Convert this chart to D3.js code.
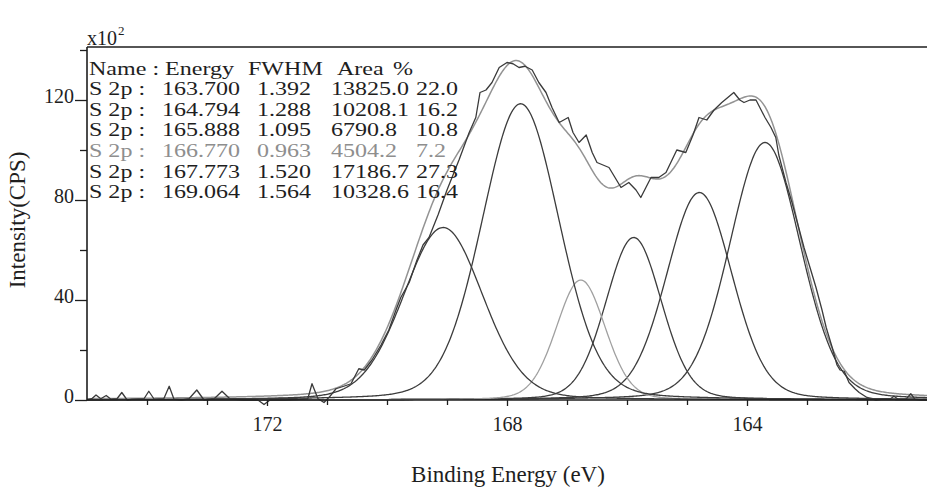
<!DOCTYPE html>
<html><head><meta charset="utf-8">
<script src="https://cdn.jsdelivr.net/npm/d3@7"></script>
<style>
body{margin:0;background:#fff;overflow:hidden}
svg text{font-family:"Liberation Serif","Times New Roman",Times,serif;}
</style>
</head><body><svg id="chart" width="927" height="488"></svg>
<script>
// ---- data ----
const peakNames   = ["S 2p","S 2p","S 2p","S 2p","S 2p","S 2p"];
const peakEnergy  = [163.700, 164.794, 165.888, 166.770, 167.773, 169.064];
const peakFWHM    = [1.392, 1.288, 1.095, 0.963, 1.520, 1.564];
const peakArea    = [13825.0, 10208.1, 6790.8, 4504.2, 17186.7, 10328.6];
const peakPercent = [22.0, 16.2, 10.8, 7.2, 27.3, 16.4];
const peakHeight  = [103, 83, 65, 48, 118.5, 69];   // x10^2 CPS
const peakColor   = ["#3c3c3c","#3c3c3c","#3c3c3c","#a0a0a0","#3c3c3c","#3c3c3c"];
const tableColor  = ["#1e1e1e","#1e1e1e","#1e1e1e","#8e8e8e","#1e1e1e","#1e1e1e"];
const tableHeader = ["Name : Energy","FWHM","Area","%"];

const rawEnergy = [175.0,174.92,174.85,174.77,174.68,174.6,174.5,174.42,174.33,174.25,174.05,173.97,173.88,173.72,173.63,173.55,173.42,173.3,173.17,173.05,172.88,172.75,172.62,172.4,172.15,172.05,171.95,171.7,171.45,171.32,171.25,171.15,171.05,170.95,170.85,170.72,170.6,170.47,170.38,170.25,170.1,169.97,169.85,169.77,169.63,169.5,169.4,169.3,169.15,169.0,168.9,168.8,168.63,168.52,168.45,168.35,168.25,168.13,168.0,167.9,167.8,167.7,167.58,167.47,167.35,167.25,167.13,166.98,166.9,166.8,166.68,166.58,166.5,166.3,166.2,166.1,165.97,165.85,165.77,165.6,165.47,165.35,165.17,165.02,164.9,164.8,164.67,164.55,164.42,164.32,164.22,164.12,164.05,163.95,163.85,163.7,163.6,163.52,163.47,163.35,163.25,163.15,163.05,162.95,162.85,162.75,162.68,162.58,162.5,162.45,162.38,162.3,162.2,162.13,162.0,161.85,161.7,161.62,161.55,161.48,161.35,161.27,161.2,161.1,161.0];
const rawCounts = [0,0.5,2,0.5,1.8,0.3,0.5,3,0,0.3,0.5,3.5,0.3,0.5,5.5,0.3,0,0.5,4,0,0.5,3.5,0.5,0,0,-1.8,0,0,0.3,0.5,6.5,0.5,-1,1.5,4.5,5.5,6.5,12.5,12,16,22,28,36,41,47,56,62,65,74,84,90,96,107,113,123,124,127,133,135,134.5,133,133.5,132,127,123,117,111,113,107,103,106,99,95,93,89,85,87,84,81,89,89,91,100,99,106,113,112,116,119,121,123,120,119,120,120,113,109,105,98,87,79,70,61,53,45,36,29,21,14,12,11.5,7,4.5,3,1,0,0.5,0.3,1.5,0.3,0.3,2.5,0.3,0,0];

const xMajorTicks = [172, 168, 164];
const xMinorTicks = [174,173,171,170,169,167,166,165,163,162];
const yMajorTicks = [0, 40, 80, 120];
const yMinorTicks = [20, 60, 100, 140];

// ---- drawing ----
const svg = d3.select("#chart");
const INK = "#1e1e1e";
const x = d3.scaleLinear().domain([175, 161]).range([87, 927]);
const y = d3.scaleLinear().domain([0, 141.2]).range([400, 47]);
const MIX = 0.15;

function peakShape(E, i) {
  const d = E - peakEnergy[i], w = peakFWHM[i];
  const g = Math.exp(-4 * Math.LN2 * d * d / (w * w));
  const l = 1 / (1 + 4 * d * d / (w * w));
  return peakHeight[i] * ((1 - MIX) * g + MIX * l);
}
const grid = d3.range(175, 160.99, -0.02);
const line = d3.line().x(d => x(d[0])).y(d => y(d[1]));

const plot = svg.append("g");
peakEnergy.forEach((c, i) => {
  plot.append("path")
    .attr("d", line(grid.map(E => [E, peakShape(E, i)])))
    .attr("fill", "none").attr("stroke", peakColor[i]).attr("stroke-width", 1.3);
});
plot.append("path")
  .attr("d", line(grid.map(E => [E, d3.sum(peakEnergy, (c, i) => peakShape(E, i))])))
  .attr("fill", "none").attr("stroke", "#939393").attr("stroke-width", 1.5);
plot.append("path")
  .attr("d", line(rawEnergy.map((E, k) => [E, rawCounts[k]])))
  .attr("fill", "none").attr("stroke", "#3a3a3a").attr("stroke-width", 1.3)
  .attr("stroke-linejoin", "round");

// frame / axes
const ax = svg.append("g").attr("stroke", INK).attr("stroke-width", 1.6);
ax.append("line").attr("x1", x(175)).attr("x2", 927).attr("y1", y(0)).attr("y2", y(0));
ax.append("line").attr("x1", x(175)).attr("x2", x(175)).attr("y1", y(0)).attr("y2", y(141.2));
ax.append("line").attr("x1", x(175)).attr("x2", 927).attr("y1", y(141.2)).attr("y2", y(141.2));

function styleAxis(g, size) {
  g.select(".domain").remove();
  g.selectAll(".tick line").attr("stroke", INK).attr("stroke-width", 1.3);
  g.selectAll(".tick text").attr("font-size", size).attr("fill", INK);
}
const gx1 = svg.append("g").attr("transform", `translate(0,${y(0)})`)
  .call(d3.axisBottom(x).tickValues(xMajorTicks).tickSize(6).tickPadding(11).tickFormat(d3.format("d")));
styleAxis(gx1, 20);
const gx2 = svg.append("g").attr("transform", `translate(0,${y(0)})`)
  .call(d3.axisBottom(x).tickValues(xMinorTicks).tickSize(5).tickFormat(""));
styleAxis(gx2, 20);

const gy1 = svg.append("g").attr("transform", `translate(${x(175)},0)`)
  .call(d3.axisLeft(y).tickValues(yMajorTicks).tickSize(12).tickPadding(1).tickFormat(d3.format("d")));
styleAxis(gy1, 20);
gy1.selectAll(".tick text").attr("dy", "0.1em");
const gy2 = svg.append("g").attr("transform", `translate(${x(175)},0)`)
  .call(d3.axisLeft(y).tickValues(yMinorTicks).tickSize(7).tickFormat(""));
styleAxis(gy2, 20);

// multiplier
svg.append("text").attr("x", 87).attr("y", 45).attr("font-size", 20).attr("fill", INK).text("x10");
svg.append("text").attr("x", 118).attr("y", 35).attr("font-size", 13).attr("fill", INK).text("2");

// axis titles
svg.append("text").attr("x", 508).attr("y", 482).attr("text-anchor", "middle")
  .attr("font-size", 23).attr("fill", INK).text("Binding Energy (eV)");
svg.append("text").attr("transform", "translate(25,220) rotate(-90)").attr("text-anchor", "middle")
  .attr("font-size", 23).attr("fill", INK).text("Intensity(CPS)");

// fit table (text is horizontally widened as in the reference printout)
const SX = 1.3;
const colX = [89, 248, 337, 393];
const valX = [89, 162, 257, 331, 416];
const tbl = svg.append("g").attr("font-size", 18.5);
function cell(px, py, t, fill) {
  tbl.append("text").attr("transform", `translate(${px},${py}) scale(${SX},1)`).attr("fill", fill).text(t);
}
tableHeader.forEach((h, j) => cell(colX[j], 74.5, h, INK));
peakEnergy.forEach((e, i) => {
  const by = 95.1 + i * 20.6;
  const cells = [peakNames[i] + " :", e.toFixed(3), peakFWHM[i].toFixed(3), peakArea[i].toFixed(1), peakPercent[i].toFixed(1)];
  cells.forEach((t, j) => cell(valX[j], by, t, tableColor[i]));
});
</script></body></html>
